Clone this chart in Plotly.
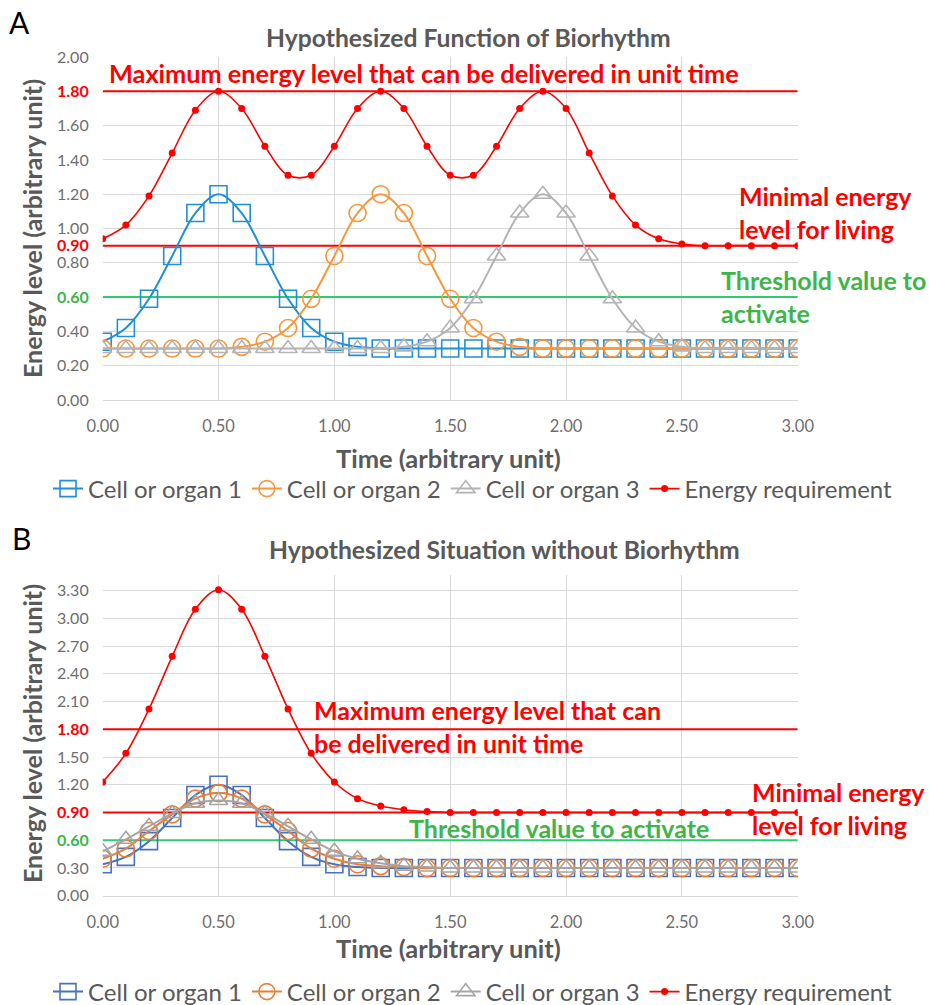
import plotly.graph_objects as go

# ---------------- data ----------------
time = [round(i * 0.1, 1) for i in range(31)]

# Panel A: with biorhythm
a_cell1 = [0.34, 0.42, 0.59, 0.84, 1.09, 1.20, 1.09, 0.84, 0.59, 0.42, 0.34, 0.31, 0.30, 0.30, 0.30, 0.30,
           0.30, 0.30, 0.30, 0.30, 0.30, 0.30, 0.30, 0.30, 0.30, 0.30, 0.30, 0.30, 0.30, 0.30, 0.30]
a_cell2 = [0.30, 0.30, 0.30, 0.30, 0.30, 0.30, 0.31, 0.34, 0.42, 0.59, 0.84, 1.09, 1.20, 1.09, 0.84, 0.59,
           0.42, 0.34, 0.31, 0.30, 0.30, 0.30, 0.30, 0.30, 0.30, 0.30, 0.30, 0.30, 0.30, 0.30, 0.30]
a_cell3 = [0.30, 0.30, 0.30, 0.30, 0.30, 0.30, 0.30, 0.30, 0.30, 0.30, 0.30, 0.30, 0.30, 0.31, 0.34, 0.42,
           0.59, 0.84, 1.09, 1.20, 1.09, 0.84, 0.59, 0.42, 0.34, 0.31, 0.30, 0.30, 0.30, 0.30, 0.30]
a_energy = [0.94, 1.02, 1.19, 1.44, 1.69, 1.80, 1.70, 1.48, 1.31, 1.31, 1.48, 1.70, 1.80, 1.70, 1.48, 1.31,
            1.31, 1.48, 1.70, 1.80, 1.70, 1.44, 1.19, 1.02, 0.94, 0.91, 0.90, 0.90, 0.90, 0.90, 0.90]

# Panel B: without biorhythm
b_cell1 = [0.34, 0.42, 0.59, 0.84, 1.09, 1.20, 1.09, 0.84, 0.59, 0.42, 0.34, 0.31, 0.30, 0.30, 0.30, 0.30,
           0.30, 0.30, 0.30, 0.30, 0.30, 0.30, 0.30, 0.30, 0.30, 0.30, 0.30, 0.30, 0.30, 0.30, 0.30]
b_cell2 = [0.40, 0.51, 0.70, 0.88, 1.05, 1.11, 1.05, 0.88, 0.70, 0.51, 0.40, 0.34, 0.32, 0.31, 0.30, 0.30,
           0.30, 0.30, 0.30, 0.30, 0.30, 0.30, 0.30, 0.30, 0.30, 0.30, 0.30, 0.30, 0.30, 0.30, 0.30]
b_cell3 = [0.48, 0.61, 0.75, 0.89, 1.00, 1.03, 1.00, 0.89, 0.75, 0.61, 0.48, 0.40, 0.35, 0.32, 0.31, 0.30,
           0.30, 0.30, 0.30, 0.30, 0.30, 0.30, 0.30, 0.30, 0.30, 0.30, 0.30, 0.30, 0.30, 0.30, 0.30]
b_energy = [1.23, 1.54, 2.02, 2.59, 3.10, 3.31, 3.10, 2.59, 2.02, 1.54, 1.23, 1.05, 0.97, 0.93, 0.91, 0.90,
            0.90, 0.90, 0.90, 0.90, 0.90, 0.90, 0.90, 0.90, 0.90, 0.90, 0.90, 0.90, 0.90, 0.90, 0.90]

max_level = 1.80
min_level = 0.90
threshold = 0.60

series_names = ["Cell or organ 1", "Cell or organ 2", "Cell or organ 3", "Energy requirement"]
x_ticks = [0, 0.5, 1.0, 1.5, 2.0, 2.5, 3.0]
a_yticks = [0.0, 0.2, 0.4, 0.6, 0.8, 0.9, 1.0, 1.2, 1.4, 1.6, 1.8, 2.0]
b_yticks = [0.0, 0.3, 0.6, 0.9, 1.2, 1.5, 1.8, 2.1, 2.4, 2.7, 3.0, 3.3]

# ---------------- styles ----------------
FONT = "Lato"
GREY_TXT = "#595959"
TICK_TXT = "#6E6E6E"
RED = "#FF0000"
GREEN_LINE = "#2ECC71"
GREEN_TXT = "#3DB54A"
GRID = "#D9D9D9"
W, H = 929, 1005


def px_x(p):
    return p / W


def px_y(p):
    return 1 - p / H


fig = go.Figure()


def add_panel(xa, ya, legend, c1, c2, c3, en, cols):
    xs = "x" if xa == 1 else f"x{xa}"
    ys = "y" if ya == 1 else f"y{ya}"
    # reference levels
    for lvl, col in [(max_level, RED), (min_level, RED), (threshold, GREEN_LINE)]:
        fig.add_trace(go.Scatter(x=[time[0], time[-1]], y=[lvl, lvl], mode="lines",
                                 line=dict(color=col, width=2), showlegend=False,
                                 hoverinfo="skip", xaxis=xs, yaxis=ys))
    specs = [(c1, "square-open", cols[0], 17), (c2, "circle-open", cols[1], 17),
             (c3, "triangle-up-open", cols[2], 16)]
    for (vals, sym, col, sz), name in zip(specs, series_names[:3]):
        fig.add_trace(go.Scatter(x=time, y=vals, name=name, mode="lines+markers",
                                 line=dict(color=col, width=2, shape="spline", smoothing=1),
                                 marker=dict(symbol=sym, size=sz, color=col, line=dict(width=1.6, color=col)),
                                 legend=legend, xaxis=xs, yaxis=ys))
    fig.add_trace(go.Scatter(x=time, y=en, name=series_names[3], mode="lines+markers",
                             line=dict(color=RED, width=1.6, shape="spline", smoothing=1),
                             marker=dict(symbol="circle", size=7, color=RED),
                             legend=legend, xaxis=xs, yaxis=ys))


add_panel(1, 1, "legend", a_cell1, a_cell2, a_cell3, a_energy, ["#1F8FD8", "#F7963C", "#B4B4B4"])
add_panel(2, 2, "legend2", b_cell1, b_cell2, b_cell3, b_energy, ["#4472C4", "#ED7D31", "#A5A5A5"])


def tick_text(vals, fmt_special):
    out = []
    for v in vals:
        s = f"{v:.2f}"
        if v in fmt_special:
            out.append(f"<b><span style='color:{fmt_special[v]}'>{s}</span></b>")
        else:
            out.append(s)
    return out


xaxis_common = dict(range=[0, 3], tickvals=x_ticks, ticktext=[f"{v:.2f}" for v in x_ticks],
                    showgrid=True, gridcolor=GRID, gridwidth=1, zeroline=False,
                    showline=True, linecolor=GRID, linewidth=1, ticks="", ticklabelstandoff=11,
                    tickfont=dict(family=FONT, size=16.5, color=TICK_TXT), automargin=False)
yaxis_common = dict(showgrid=True, gridcolor=GRID, gridwidth=1, zeroline=False,
                    showline=False, ticks="", ticklabelstandoff=13,
                    tickfont=dict(family=FONT, size=16, color=TICK_TXT),
                    automargin=False)

fig.update_layout(
    width=W, height=H, margin=dict(l=0, r=0, t=0, b=0, autoexpand=False),
    paper_bgcolor="white", plot_bgcolor="white",
    font=dict(family=FONT, color=GREY_TXT),
    xaxis=dict(domain=[px_x(102.7), px_x(797.7)], anchor="y", **xaxis_common),
    yaxis=dict(domain=[px_y(400), px_y(57)], anchor="x", range=[0, 2.0],
               tickvals=a_yticks,
               ticktext=tick_text(a_yticks, {1.8: RED, 0.9: RED, 0.6: GREEN_TXT}),
               **yaxis_common),
    xaxis2=dict(domain=[px_x(102.7), px_x(797.7)], anchor="y2", **xaxis_common),
    yaxis2=dict(domain=[px_y(895.7), px_y(575)], anchor="x2", range=[0, 3.47],
                tickvals=b_yticks,
                ticktext=tick_text(b_yticks, {1.8: RED, 0.9: RED, 0.6: GREEN_TXT}),
                **yaxis_common),
    legend=dict(orientation="h", x=px_x(473), xanchor="center", y=px_y(489), yanchor="middle",
                font=dict(family=FONT, size=24, color=GREY_TXT), itemwidth=30,
                bgcolor="rgba(0,0,0,0)", tracegroupgap=0),
    legend2=dict(orientation="h", x=px_x(473), xanchor="center", y=px_y(992), yanchor="middle",
                 font=dict(family=FONT, size=24, color=GREY_TXT), itemwidth=30,
                 bgcolor="rgba(0,0,0,0)", tracegroupgap=0),
    showlegend=True,
)

ann = []


def text(x, y, s, size, color, bold=True, xanchor="left", yanchor="middle", angle=0):
    ann.append(dict(x=px_x(x), y=px_y(y), xref="paper", yref="paper", text=(f"<b>{s}</b>" if bold else s),
                    showarrow=False, xanchor=xanchor, yanchor=yanchor, textangle=angle,
                    font=dict(family=FONT, size=size, color=color), align="left"))


# panel labels
text(7, 22, "A", 30, "#000000", bold=False)
text(10, 538, "B", 30, "#000000", bold=False)
# titles
text(468, 37, "Hypothesized Function of Biorhythm", 24.7, GREY_TXT, xanchor="center")
text(504, 549, "Hypothesized Situation without Biorhythm", 24.7, GREY_TXT, xanchor="center")
# axis titles
text(448, 458, "Time (arbitrary unit)", 25.5, GREY_TXT, xanchor="center")
text(448, 948, "Time (arbitrary unit)", 25.5, GREY_TXT, xanchor="center")
text(32, 229, "Energy level (arbitrary unit)", 25, GREY_TXT, xanchor="center", angle=-90)
text(32, 734, "Energy level (arbitrary unit)", 25, GREY_TXT, xanchor="center", angle=-90)
# panel A notes
text(107, 73, "Maximum energy level that can be delivered in unit time", 25.3, RED)
text(737, 213, "Minimal energy<br>level for living", 25, RED)
text(719, 296, "Threshold value to<br>activate", 25, GREEN_TXT)
# panel B notes
text(312, 726, "Maximum energy level that can<br>be delivered in unit time", 25, RED)
text(407, 828, "Threshold value to activate", 25, GREEN_TXT)
text(750, 808, "Minimal energy<br>level for living", 25, RED)

fig.update_layout(annotations=ann)

fig.write_html("out.html")
